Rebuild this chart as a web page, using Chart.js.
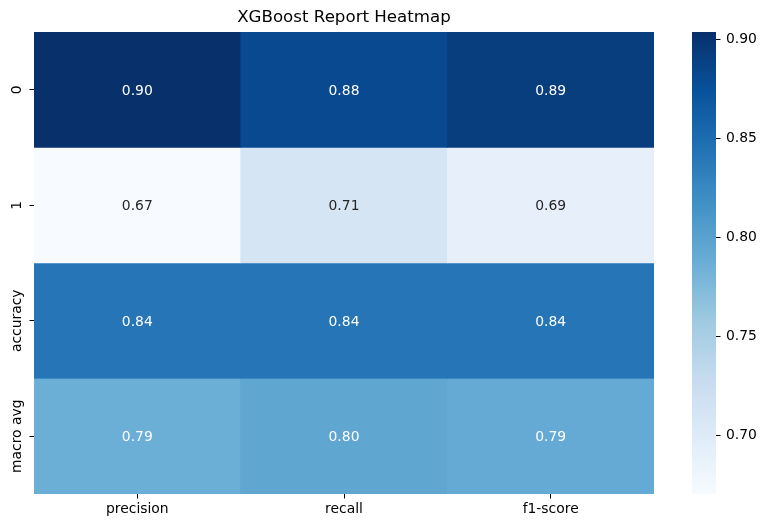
<!DOCTYPE html>
<html>
<head>
<meta charset="utf-8">
<script src="https://cdn.jsdelivr.net/npm/chart.js@4.4.1/dist/chart.umd.min.js"></script>
<style>
  html, body { margin: 0; padding: 0; background: #fff; }
  #wrap { position: relative; width: 766px; height: 528px; }
  #heatmap { position: absolute; left: 0; top: 0; }
  #colorbar { position: absolute; left: 680px; top: 0; }
</style>
</head>
<body>
<div id="wrap">
  <canvas id="heatmap" width="766" height="528"></canvas>
  <canvas id="colorbar" width="86" height="528"></canvas>
</div>
<script>
// Datos del reporte (filas = clases / promedios, columnas = métricas)
const columnas = ['precision', 'recall', 'f1-score'];
const filas = ['0', '1', 'accuracy', 'macro avg'];
const precision = [0.9037, 0.6705, 0.8418, 0.7871];
const recall = [0.8817, 0.7100, 0.8418, 0.7959];
const f1Score = [0.8926, 0.6897, 0.8418, 0.7911];
const ticksColorbar = [0.70, 0.75, 0.80, 0.85, 0.90];

// Paleta "Blues" de matplotlib (9 colores de ColorBrewer)
const azules = ['#f7fbff', '#deebf7', '#c6dbef', '#9ecae1', '#6baed6',
                '#4292c6', '#2171b5', '#08519c', '#08306b'];

const matriz = filas.map((_, i) => [precision[i], recall[i], f1Score[i]]);
const todos = matriz.flat();
const vmin = Math.min(...todos);
const vmax = Math.max(...todos);

function hexRgb(h) {
  return [1, 3, 5].map(k => parseInt(h.slice(k, k + 2), 16));
}

function colorAzul(v) {
  const t = Math.min(1, Math.max(0, (v - vmin) / (vmax - vmin))) * 8;
  const k = Math.min(7, Math.floor(t));
  const f = t - k;
  const a = hexRgb(azules[k]);
  const b = hexRgb(azules[k + 1]);
  return a.map((c, j) => Math.round(c + (b[j] - c) * f));
}

// Regla de seaborn: texto oscuro sobre celdas claras
function colorTexto(rgb) {
  const lin = rgb.map(c => {
    c /= 255;
    return c <= 0.03928 ? c / 12.92 : Math.pow((c + 0.055) / 1.055, 2.4);
  });
  const lum = 0.2126 * lin[0] + 0.7152 * lin[1] + 0.0722 * lin[2];
  return lum > 0.408 ? '#262626' : '#ffffff';
}

const fuente = 'DejaVu Sans';

// Etiquetas de valor dentro de cada celda
const etiquetasCeldas = {
  id: 'etiquetasCeldas',
  afterDatasetsDraw(chart) {
    const ctx = chart.ctx;
    ctx.save();
    ctx.font = '13.9px "' + fuente + '"';
    ctx.textAlign = 'center';
    ctx.textBaseline = 'alphabetic';
    chart.data.datasets.forEach((ds, i) => {
      chart.getDatasetMeta(i).data.forEach((el, j) => {
        const p = el.getProps(['x', 'y', 'base'], true);
        const v = matriz[i][j];
        ctx.fillStyle = colorTexto(colorAzul(v));
        ctx.fillText(v.toFixed(2), p.x, (p.y + p.base) / 2 + 5.1);
      });
    });
    ctx.restore();
  }
};

// Etiquetas del eje Y giradas 90 grados
const etiquetasFilas = {
  id: 'etiquetasFilas',
  afterDraw(chart) {
    const ctx = chart.ctx;
    const ejeY = chart.scales.y;
    ctx.save();
    ctx.font = '13.9px "' + fuente + '"';
    ctx.fillStyle = '#000';
    ctx.textAlign = 'center';
    ctx.textBaseline = 'alphabetic';
    filas.forEach((f, i) => {
      ctx.save();
      ctx.translate(ejeY.right - 13.5, ejeY.getPixelForValue(i + 0.5));
      ctx.rotate(-Math.PI / 2);
      ctx.fillText(f, 0, 0);
      ctx.restore();
    });
    ctx.restore();
  }
};

new Chart(document.getElementById('heatmap'), {
  type: 'bar',
  data: {
    labels: columnas,
    datasets: filas.map((f, i) => ({
      label: f,
      data: columnas.map(() => [i, i + 1]),
      backgroundColor: matriz[i].map(v => 'rgb(' + colorAzul(v).join(',') + ')'),
      borderWidth: 0,
      grouped: false,
      barPercentage: 1,
      categoryPercentage: 1
    }))
  },
  options: {
    responsive: false,
    animation: false,
    layout: { padding: { left: 0, right: 112, top: 0, bottom: 0 } },
    plugins: {
      legend: { display: false },
      tooltip: { enabled: false },
      title: {
        display: true,
        text: 'XGBoost Report Heatmap',
        fullSize: false,
        color: '#000',
        font: { family: fuente, size: 16.67, weight: 'normal', lineHeight: 1.2 },
        padding: { top: 8, bottom: 4 }
      }
    },
    scales: {
      x: {
        type: 'category',
        offset: true,
        border: { display: false },
        grid: { offset: false, drawOnChartArea: false, tickLength: 4.5, color: '#000', tickWidth: 1 },
        ticks: { color: '#000', padding: 3, font: { family: fuente, size: 13.9 } },
        afterFit: s => { s.height = 34; }
      },
      y: {
        type: 'linear',
        min: 0,
        max: 4,
        reverse: true,
        border: { display: false },
        afterBuildTicks: s => { s.ticks = filas.map((_, i) => ({ value: i + 0.5 })); },
        grid: { drawOnChartArea: false, tickLength: 4.5, color: '#000', tickWidth: 1 },
        ticks: { display: false },
        afterFit: s => { s.width = 34; }
      }
    }
  },
  plugins: [etiquetasCeldas, etiquetasFilas]
});

// Barra de color con gradiente
new Chart(document.getElementById('colorbar'), {
  type: 'bar',
  data: {
    labels: [''],
    datasets: [{
      data: [[vmin, vmax]],
      borderWidth: 0,
      barPercentage: 1,
      categoryPercentage: 1,
      backgroundColor: (c) => {
        const area = c.chart.chartArea;
        if (!area) return azules[4];
        const g = c.chart.ctx.createLinearGradient(0, area.bottom, 0, area.top);
        azules.forEach((col, k) => g.addColorStop(k / 8, col));
        return g;
      }
    }]
  },
  options: {
    responsive: false,
    animation: false,
    layout: { padding: { left: 12, right: 0, top: 32, bottom: 34 } },
    plugins: { legend: { display: false }, tooltip: { enabled: false } },
    scales: {
      x: { display: false },
      y: {
        position: 'right',
        min: vmin,
        max: vmax,
        border: { display: false },
        afterBuildTicks: s => { s.ticks = ticksColorbar.map(v => ({ value: v })); },
        grid: { drawOnChartArea: false, tickLength: 4.5, color: '#000', tickWidth: 1 },
        ticks: {
          color: '#000',
          padding: 5.5,
          font: { family: fuente, size: 13.9 },
          callback: v => Number(v).toFixed(2)
        },
        afterFit: s => { s.width = 50; }
      }
    }
  }
});
</script>
</body>
</html>
